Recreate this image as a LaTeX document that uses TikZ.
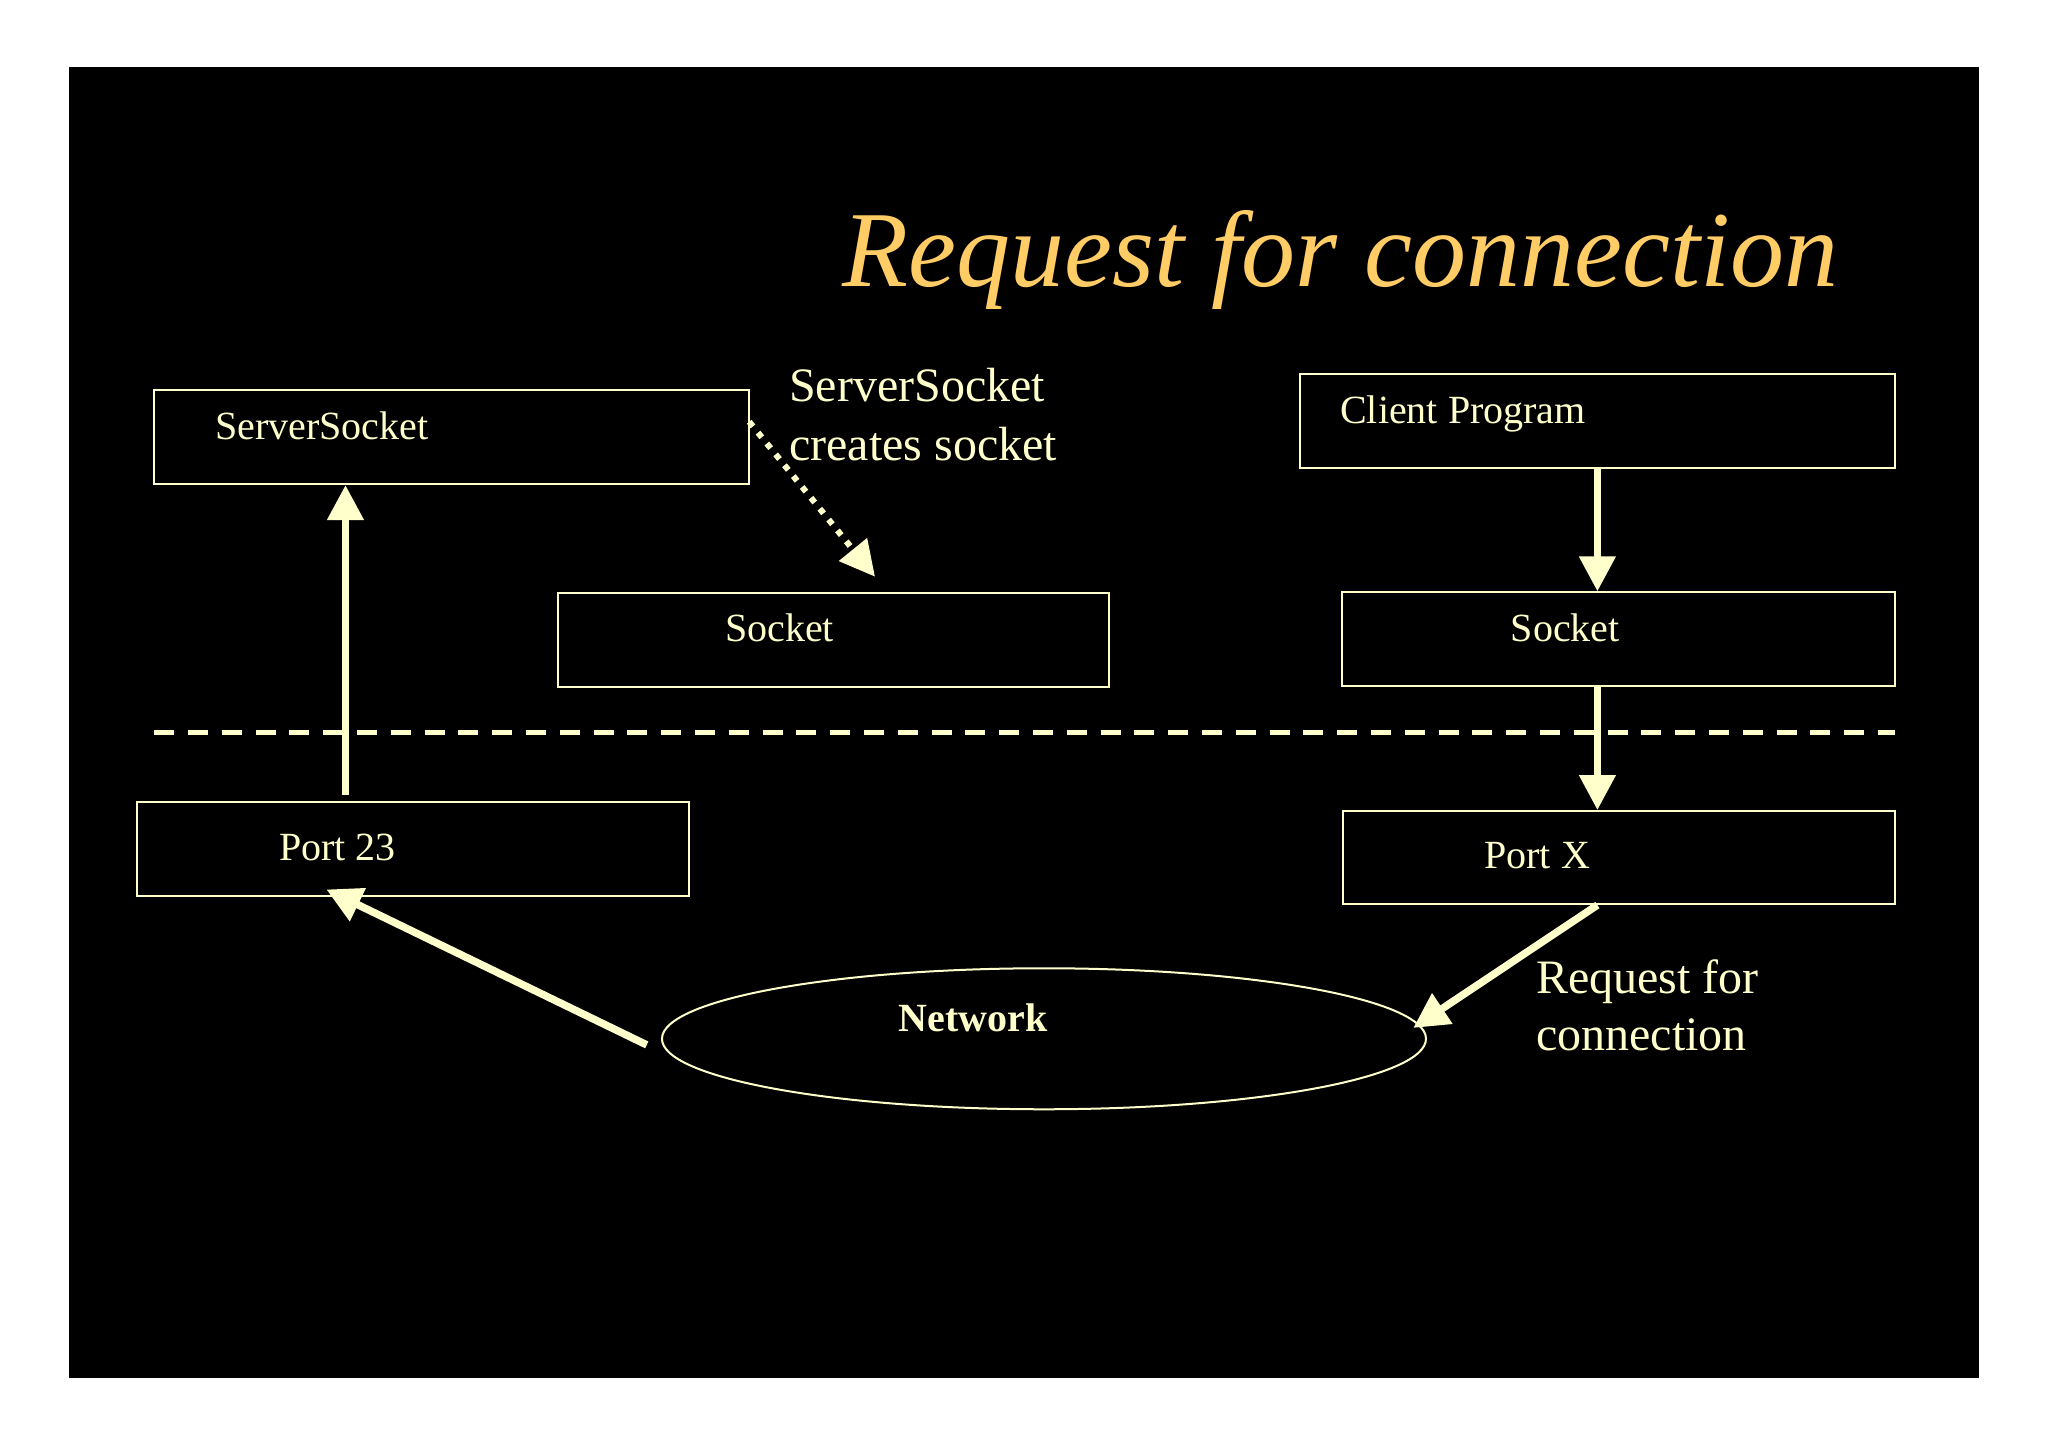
\documentclass[tikz,border=0pt]{standalone}
\usepackage{fontspec}
\setmainfont{Liberation Serif}
\usetikzlibrary{arrows.meta,shapes.geometric}
\definecolor{cream}{HTML}{FFFFCC}
\definecolor{gold}{HTML}{FFCC66}
\begin{document}
\begin{tikzpicture}[x=1.3061pt,y=-1.3061pt,
  box/.style={draw=cream,line width=2pt,rectangle,inner sep=0pt},
  txt/.style={text=cream,inner sep=0pt,anchor=base west,font=\fontsize{40}{48}\selectfont},
  lbl/.style={text=cream,inner sep=0pt,anchor=base west,font=\fontsize{48}{57}\selectfont},
  arr/.style={draw=cream,line width=7.5pt,-{Triangle[width=35pt,length=35pt]}},
  dotarr/.style={draw=cream,line width=6pt,dash pattern=on 6pt off 8pt,-{Triangle[width=35pt,length=35pt]}},
  sep/.style={draw=cream,line width=4.7pt,dash pattern=on 20pt off 13.8pt}
]
\useasboundingbox (0,0) rectangle (1568,1108);
\fill[white] (0,0) rectangle (1568,1108);
\fill[black] (53,51.6) rectangle (1515,1055);

% title
\node[text=gold,inner sep=0pt,anchor=base west,font=\fontsize{108}{120}\selectfont\itshape] (title) at (645,219.5) {Request for connection};

% boxes
\node[box,minimum width=594.9pt,minimum height=94pt] (ss) at (345.8,334.6) {};
\node[txt] (ssT) at (164.5,336.4) {ServerSocket};
\node[box,minimum width=551.2pt,minimum height=94pt] (sl) at (638.1,489.7) {};
\node[txt] (slT) at (555,491.3) {Socket};
\node[box,minimum width=595.6pt,minimum height=94.3pt] (cp) at (1223,322.5) {};
\node[txt] (cpT) at (1026,324.6) {Client Program};
\node[box,minimum width=552.7pt,minimum height=93.6pt] (sr) at (1239.4,489.4) {};
\node[txt] (srT) at (1156.6,491.3) {Socket};
\node[box,minimum width=552pt,minimum height=93.6pt] (p23) at (316.2,650.2) {};
\node[txt] (p23T) at (213.6,658.5) {Port 23};
\node[box,minimum width=552.5pt,minimum height=93pt] (px) at (1239.5,656.6) {};
\node[txt] (pxT) at (1136.3,664.8) {Port X};

% network
\node[draw=cream,line width=2pt,ellipse,minimum width=764pt,minimum height=141pt,inner sep=0pt] (net) at (799.3,795.3) {};
\node[txt,font=\fontsize{40}{48}\selectfont\bfseries] (netT) at (688,789.9) {Network};

% labels
\node[lbl] (l1a) at (604,307.5) {ServerSocket};
\node[lbl] (l1b) at (604,352.2) {creates socket};
\node[lbl] (l2a) at (1176,760.5) {Request for};
\node[lbl] (l2b) at (1176,803.9) {connection};

% separator
\coordinate (dl) at (118,561);
\coordinate (dr) at (1451,561);
\draw[sep] (dl) -- (dr);

% connectors
\coordinate (a1) at (264.5,608.7);
\draw[arr] (a1) -- (a1 |- ss.south);
\draw[arr] (cp.south) -- (cp.south |- sr.north);
\draw[arr] (sr.south -| cp.south) -- (cp.south |- px.north);
\coordinate (a4e) at (1082,787);
\draw[arr] (px.south -| cp.south) -- (a4e);
\coordinate (a5s) at (495.2,800);
\coordinate (a5e) at (249.9,681);
\draw[arr] (a5s) -- (a5e);
\coordinate (d1) at (573.6,322.9);
\coordinate (d2) at (669.9,441.5);
\draw[dotarr] (d1) -- (d2);
\end{tikzpicture}
\end{document}
